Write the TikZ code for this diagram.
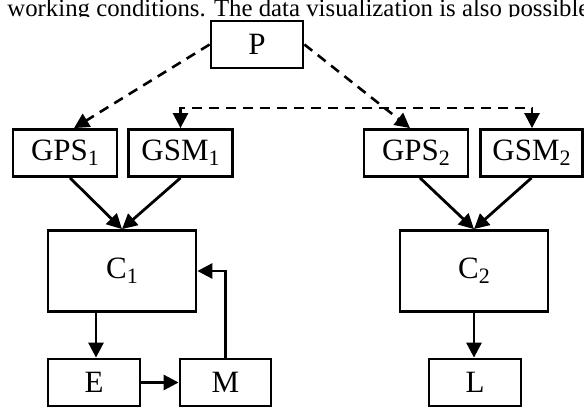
\documentclass[tikz,border=0pt]{standalone}
\usepackage{fontspec}
\setmainfont{Liberation Serif}
\usepackage{tikz}
\usetikzlibrary{arrows.meta, positioning, calc}

\newcommand\lowidx[1]{\raisebox{-0.35ex}{\fontsize{11}{12}\selectfont #1}}

\begin{document}
\begin{tikzpicture}[x=0.5pt, y=-0.5pt,
  blk/.style={draw, line width=1.4pt, inner sep=0pt, font=\fontsize{15.5}{17}\selectfont},
  arr/.style={line width=1.4pt, -{Triangle[length=7.5pt, width=7.5pt]}},
  darr/.style={line width=1.3pt, dash pattern=on 5pt off 3.5pt, -{Triangle[length=7.5pt, width=7.5pt]}}]
\useasboundingbox (0,0) rectangle (584,408);

% cut-off line of text above the figure
\begin{scope}
\clip (0,0) rectangle (584,16.5);
\node[anchor=base west, inner sep=0pt, font=\fontsize{12.4}{14}\selectfont] (caption) at (7,16)
  {working conditions. The data visualization is also possible};
\end{scope}

% blocks
\node[blk, minimum width=46pt, minimum height=23.5pt] (P) at (257,44.5) {P};
\node[blk, minimum width=52pt, minimum height=23.5pt] (GPS1) at (65,153) {GPS\lowidx{1}};
\node[blk, minimum width=52pt, minimum height=23.5pt] (GSM1) at (180.5,153) {GSM\lowidx{1}};
\node[blk, minimum width=52pt, minimum height=23.5pt] (GPS2) at (416,153) {GPS\lowidx{2}};
\node[blk, minimum width=51pt, minimum height=23.5pt] (GSM2) at (531.5,153) {GSM\lowidx{2}};
\node[blk, minimum width=74pt, minimum height=40.5pt] (C1) at (122,271) {C\lowidx{1}};
\node[blk, minimum width=74pt, minimum height=40.5pt] (C2) at (474,271) {C\lowidx{2}};
\node[blk, minimum width=46pt, minimum height=23.5pt] (E) at (94,382.5) {E};
\node[blk, minimum width=45.5pt, minimum height=23.5pt] (M) at (225.5,382.5) {M};
\node[blk, minimum width=46pt, minimum height=23.5pt] (L) at (475,382.5) {L};

% dashed links
\draw[darr] (P.west) -- ($(GPS1.north)+(9,0)$);
\draw[darr] (P.east) -- ($(GPS2.north)+(-6,0)$);
\draw[darr, {Triangle[length=7.5pt, width=7.5pt]}-{Triangle[length=7.5pt, width=7.5pt]}]
  (GSM1.north) -- ++(0,-20) -| ($(GSM2.north)+(0.5,0)$);

% solid links
\draw[arr] ($(GPS1.south)+(5,0)$) -- (C1.north);
\draw[arr] (GSM1.south) -- (C1.north);
\draw[arr] ($(GPS2.south)+(4,0)$) -- (C2.north);
\draw[arr] (GSM2.south) -- (C2.north);
\draw[arr] ($(E.north |- C1.south)+(2,0)$) -- ($(E.north)+(2,0)$);
\draw[arr] (C2.south) -- (C2.south |- L.north);
\draw[arr] (E.east) -- (M.west);
\draw[arr] (M.north) |- (C1.east);
\end{tikzpicture}
\end{document}
